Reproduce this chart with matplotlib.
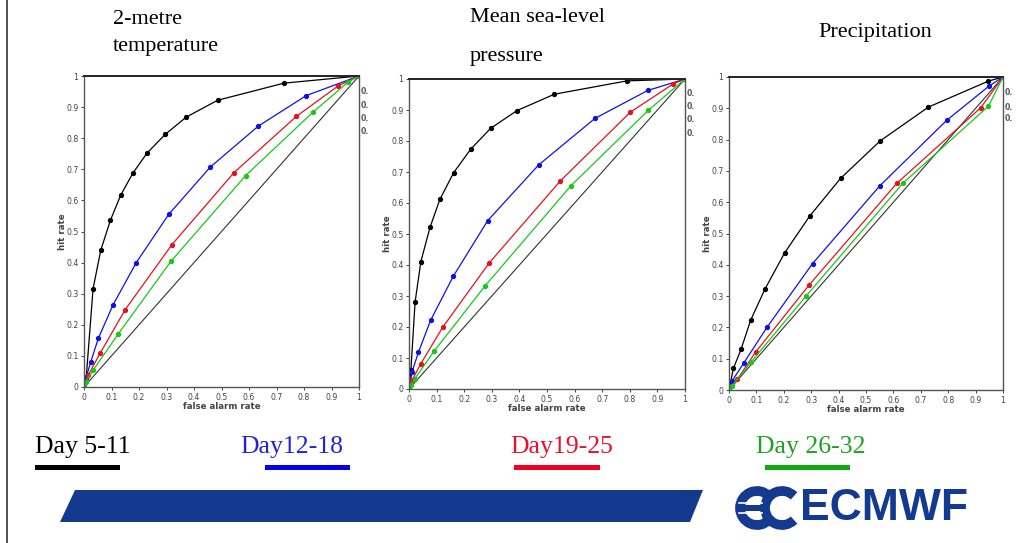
import numpy as np
import matplotlib
matplotlib.use("Agg")
import matplotlib.pyplot as plt
from matplotlib.patches import Polygon, Arc, Rectangle

# ---- data (false alarm rate, hit rate) ----
titles = [["2-metre", "temperature"], ["Mean sea-level", "pressure"], ["Precipitation"]]
periods = ["Day 5-11", "Day12-18", "Day19-25", "Day 26-32"]
colors = ["black", "#1010e8", "#e8101e", "#18c818"]

# 2-metre temperature
t2m_far_d5 = [0, 0.008, 0.033, 0.061, 0.096, 0.133, 0.178, 0.229, 0.295, 0.372, 0.486, 0.727, 1]
t2m_hr_d5 = [0, 0.03, 0.316, 0.44, 0.536, 0.616, 0.688, 0.752, 0.812, 0.868, 0.922, 0.977, 1]
t2m_far_d12 = [0, 0.008, 0.024, 0.052, 0.105, 0.19, 0.308, 0.459, 0.634, 0.808, 1]
t2m_hr_d12 = [0, 0.032, 0.079, 0.156, 0.263, 0.40, 0.555, 0.707, 0.839, 0.937, 1]
t2m_far_d19 = [0, 0.015, 0.059, 0.15, 0.32, 0.545, 0.772, 0.924, 1]
t2m_hr_d19 = [0, 0.038, 0.109, 0.249, 0.458, 0.689, 0.870, 0.968, 1]
t2m_far_d26 = [0, 0.006, 0.033, 0.125, 0.316, 0.588, 0.833, 0.96, 1]
t2m_hr_d26 = [0, 0.016, 0.054, 0.171, 0.404, 0.68, 0.884, 0.98, 1]

# mean sea-level pressure
msl_far_d5 = [0, 0.007, 0.022, 0.043, 0.076, 0.112, 0.162, 0.223, 0.296, 0.391, 0.527, 0.79, 1]
msl_hr_d5 = [0, 0.062, 0.28, 0.411, 0.521, 0.612, 0.698, 0.773, 0.841, 0.898, 0.951, 0.994, 1]
msl_far_d12 = [0, 0.011, 0.034, 0.078, 0.16, 0.285, 0.47, 0.674, 0.865, 1]
msl_hr_d12 = [0, 0.055, 0.118, 0.221, 0.363, 0.543, 0.723, 0.873, 0.963, 1]
msl_far_d19 = [0, 0.011, 0.043, 0.122, 0.29, 0.548, 0.802, 0.957, 1]
msl_hr_d19 = [0, 0.028, 0.082, 0.199, 0.406, 0.671, 0.893, 0.984, 1]
msl_far_d26 = [0, 0.006, 0.02, 0.09, 0.276, 0.586, 0.867, 1]
msl_hr_d26 = [0, 0.014, 0.032, 0.121, 0.333, 0.655, 0.899, 1]

# precipitation
tp_far_d5 = [0, 0.016, 0.044, 0.079, 0.131, 0.203, 0.294, 0.407, 0.552, 0.728, 0.947, 1]
tp_hr_d5 = [0, 0.069, 0.13, 0.223, 0.322, 0.438, 0.555, 0.676, 0.796, 0.904, 0.987, 1]
tp_far_d12 = [0, 0.012, 0.053, 0.14, 0.305, 0.55, 0.795, 0.949, 1]
tp_hr_d12 = [0, 0.03, 0.085, 0.202, 0.404, 0.652, 0.862, 0.971, 1]
tp_far_d19 = [0, 0.03, 0.097, 0.293, 0.612, 0.919, 1]
tp_hr_d19 = [0, 0.034, 0.121, 0.336, 0.66, 0.902, 1]
tp_far_d26 = [0, 0.011, 0.08, 0.282, 0.634, 0.947, 1]
tp_hr_d26 = [0, 0.013, 0.089, 0.301, 0.66, 0.907, 1]

panels = [
    [(t2m_far_d5, t2m_hr_d5), (t2m_far_d12, t2m_hr_d12), (t2m_far_d19, t2m_hr_d19), (t2m_far_d26, t2m_hr_d26)],
    [(msl_far_d5, msl_hr_d5), (msl_far_d12, msl_hr_d12), (msl_far_d19, msl_hr_d19), (msl_far_d26, msl_hr_d26)],
    [(tp_far_d5, tp_hr_d5), (tp_far_d12, tp_hr_d12), (tp_far_d19, tp_hr_d19), (tp_far_d26, tp_hr_d26)],
]
# clipped stray labels at the right edge of each panel
stray_y = [[0.95, 0.905, 0.862, 0.82], [0.954, 0.911, 0.868, 0.825], [0.952, 0.904, 0.867]]

ticks = np.round(np.arange(0, 1.01, 0.1), 1)
tick_labels = ["0"] + ["%.1f" % t for t in ticks[1:-1]] + ["1"]

W, H = 1035, 543
fig = plt.figure(figsize=(W / 100, H / 100), dpi=100)

# background layer in pixel coordinates
bg = fig.add_axes([0, 0, 1, 1])
bg.set_xlim(0, W)
bg.set_ylim(H, 0)
bg.axis("off")

# axes boxes in pixels: left, right, top, bottom
boxes = [(84, 359, 76, 387), (409, 685, 79, 389), (729, 1003, 77, 390)]
title_x = [113, 470, 818]
title_y = [[20, 46], [18, 57], [32]]

for i, (l, r, t, b) in enumerate(boxes):
    ax = fig.add_axes([l / W, (H - b) / H, (r - l) / W, (b - t) / H])
    ax.plot([0, 1], [0, 1], color="#333333", lw=0.8)
    for (x, y), c in zip(panels[i], colors):
        ax.plot(x, y, color=c, lw=0.9, marker="o", ms=2.8, mec=c, mfc=c)
    ax.set_xlim(0, 1)
    ax.set_ylim(0, 1)
    ax.set_xticks(ticks)
    ax.set_yticks(ticks)
    ax.set_xticklabels(tick_labels)
    ax.set_yticklabels(tick_labels)
    ax.tick_params(labelsize=5.6, length=2.5, width=0.7, pad=1.5, colors="#444444")
    for s in ["left", "bottom", "right"]:
        ax.spines[s].set_color("#555555")
        ax.spines[s].set_linewidth(1.0)
    ax.spines["top"].set_color("#222222")
    ax.spines["top"].set_linewidth(1.4)
    ax.set_xlabel("false alarm rate", fontsize=6.2, fontweight="bold", color="#444444", labelpad=0.5)
    ax.set_ylabel("hit rate", fontsize=6.2, fontweight="bold", color="#444444", labelpad=-1)
    for sy in stray_y[i]:
        ax.text(1.005, sy, "0.", fontsize=5.6, color="#555555", transform=ax.transAxes,
                va="center", ha="left", fontweight="bold")
    for line, ty in zip(titles[i], title_y[i]):
        bg.text(title_x[i], ty, line, fontsize=16, family="Liberation Serif", va="center", ha="left")

# left border line
bg.plot([7, 7], [0, H], color="#333333", lw=1.2)

# period legend
leg_text_x = [35, 240, 510, 756]
bar_x = [(35, 120), (265, 350), (514, 600), (765, 850)]
text_cols = ["black", "#2222dd", "#e8102a", "#20a020"]
bar_cols = ["black", "#0000ee", "#ee0022", "#10aa10"]
for k in range(4):
    bg.text(leg_text_x[k], 447, periods[k], fontsize=18.5, family="Liberation Serif",
            color=text_cols[k], va="center", ha="left")
    bg.add_patch(Rectangle((bar_x[k][0], 465), bar_x[k][1] - bar_x[k][0], 5, color=bar_cols[k], lw=0))

# blue banner
navy = "#143a90"
bg.add_patch(Polygon([(75, 490), (703, 490), (690, 522), (60, 522)], closed=True, color=navy, lw=0))

# ECMWF logo
for cx in [757, 782]:
    bg.add_patch(Arc((cx, 508), 34, 34, theta1=45, theta2=315, color=navy, lw=7))
bg.add_patch(Rectangle((737, 505), 30, 6, color=navy, lw=0))
bg.plot([739, 762], [503, 503], color="white", lw=1.2)
bg.plot([739, 762], [513, 513], color="white", lw=1.2)
bg.text(800, 509, "ECMWF", fontsize=32, fontweight="heavy", family="Liberation Sans",
        color=navy, va="center", ha="left")

fig.savefig("out.png", dpi=100)
